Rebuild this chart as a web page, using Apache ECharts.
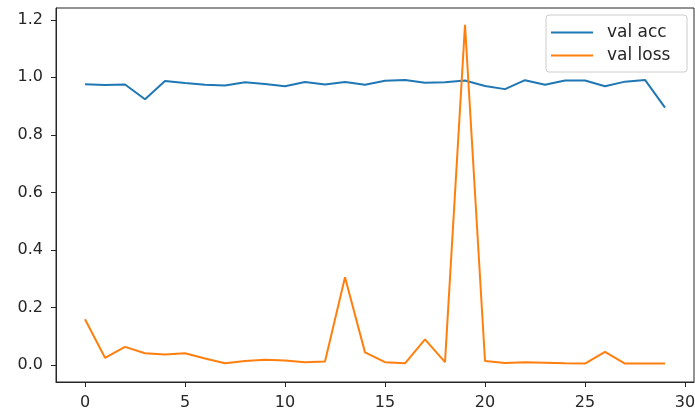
<!DOCTYPE html>
<html>
<head>
  <meta charset="utf-8">
  <title>val acc / val loss</title>
  <script src="https://cdn.jsdelivr.net/npm/echarts@6/dist/echarts.min.js"></script>
  <style>
    html, body { margin: 0; padding: 0; background: #fff; }
    #chart { width: 695px; height: 414px; }
  </style>
</head>
<body>
  <div id="chart"></div>
  <script>
    // epochs 0..29
    var epochs = [0, 1, 2, 3, 4, 5, 6, 7, 8, 9, 10, 11, 12, 13, 14, 15, 16, 17, 18, 19, 20, 21, 22, 23, 24, 25, 26, 27, 28, 29];
    var valAcc = [0.976, 0.973, 0.975, 0.924, 0.987, 0.980, 0.974, 0.972, 0.983, 0.977,
                  0.969, 0.984, 0.975, 0.984, 0.974, 0.988, 0.991, 0.981, 0.983, 0.989,
                  0.970, 0.959, 0.990, 0.974, 0.989, 0.989, 0.969, 0.985, 0.991, 0.895];
    var valLoss = [0.159, 0.025, 0.063, 0.041, 0.037, 0.041, 0.023, 0.006, 0.014, 0.018,
                   0.016, 0.010, 0.012, 0.305, 0.044, 0.010, 0.006, 0.089, 0.010, 1.183,
                   0.014, 0.007, 0.010, 0.008, 0.006, 0.005, 0.046, 0.005, 0.005, 0.005];
    var xTicks = [0, 5, 10, 15, 20, 25, 30];
    var yTicks = [0, 0.2, 0.4, 0.6, 0.8, 1.0, 1.2];

    function pairs(ys) {
      var out = [];
      for (var i = 0; i < epochs.length; i++) {
        out.push([epochs[i], ys[i]]);
      }
      return out;
    }

    var font = 'DejaVu Sans';
    var ink = '#262626';

    var myChart = echarts.init(document.getElementById('chart'), null, { renderer: 'canvas' });
    var option = {
      animation: false,
      backgroundColor: '#fff',
      textStyle: { fontFamily: font },
      grid: {
        left: 56, right: 1, top: 8, bottom: 32,
        outerBoundsMode: 'none',
        show: true,
        borderColor: ink,
        borderWidth: 1
      },
      legend: {
        orient: 'vertical',
        right: 8,
        top: 15,
        padding: [9, 5, 8, 5],
        itemGap: 6,
        itemWidth: 42,
        itemHeight: 2,
        icon: 'rect',
        borderColor: '#cccccc',
        borderWidth: 1,
        borderRadius: 3,
        backgroundColor: '#fff',
        textStyle: { fontFamily: font, fontSize: 17, color: ink, lineHeight: 17, width: 75, padding: [0, 0, 0, 9] },
        data: ['val acc', 'val loss']
      },
      xAxis: {
        type: 'value',
        min: -1.45,
        max: 30.45,
        axisLine: { show: true, onZero: false, lineStyle: { color: ink, width: 1 } },
        axisTick: { show: true, length: 5, customValues: xTicks, lineStyle: { color: ink } },
        axisLabel: { customValues: xTicks, fontSize: 16, color: ink, margin: 13, fontFamily: font },
        splitLine: { show: false }
      },
      yAxis: {
        type: 'value',
        min: -0.059,
        max: 1.241,
        axisLine: { show: true, onZero: false, lineStyle: { color: ink, width: 1 } },
        axisTick: { show: true, length: 5, customValues: yTicks, lineStyle: { color: ink } },
        axisLabel: {
          customValues: yTicks, fontSize: 16, color: ink, margin: 13, fontFamily: font,
          formatter: function (v) { return v.toFixed(1); }
        },
        splitLine: { show: false }
      },
      series: [{
        name: 'val acc',
        type: 'line',
        data: pairs(valAcc),
        showSymbol: false,
        color: '#1f77b4',
        lineStyle: { width: 2, color: '#1f77b4' }
      }, {
        name: 'val loss',
        type: 'line',
        data: pairs(valLoss),
        showSymbol: false,
        color: '#ff7f0e',
        lineStyle: { width: 2, color: '#ff7f0e' }
      }]
    };
    myChart.setOption(option);
  </script>
</body>
</html>
